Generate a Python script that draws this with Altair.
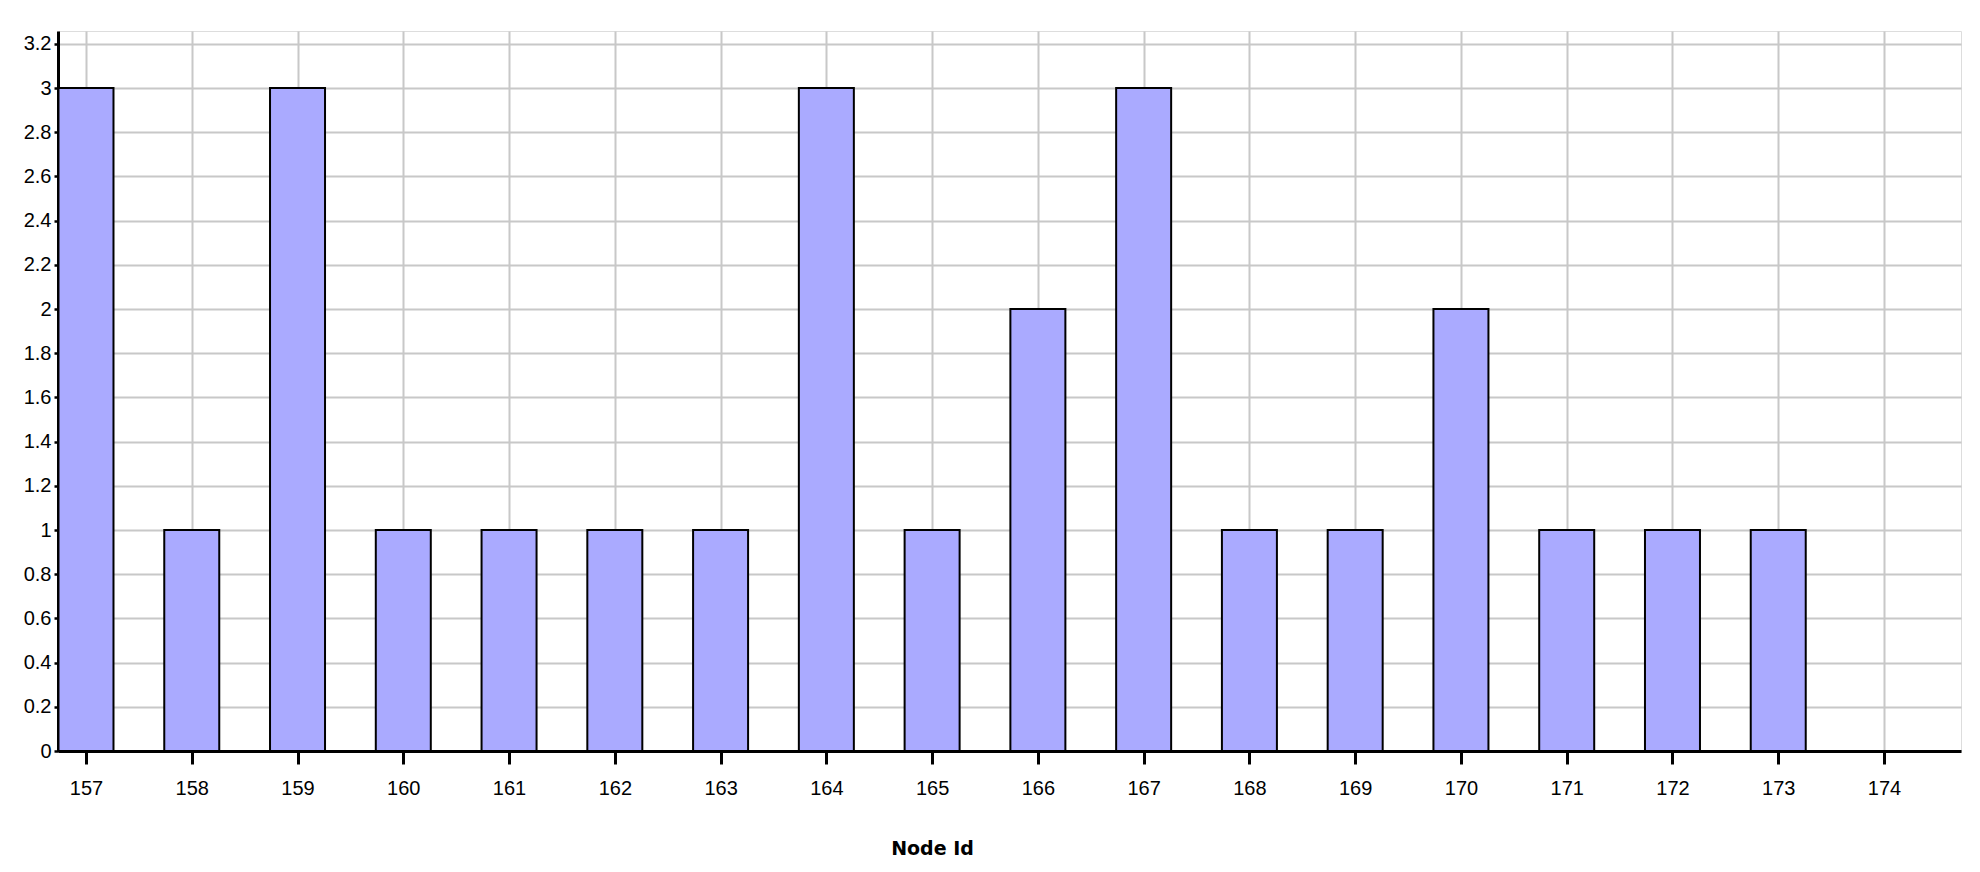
import altair as alt
import pandas as pd

node_ids = [157, 158, 159, 160, 161, 162, 163, 164, 165, 166, 167, 168, 169, 170, 171, 172, 173, 174]
counts = [3, 1, 3, 1, 1, 1, 1, 3, 1, 2, 3, 1, 1, 2, 1, 1, 1, 0]
y_ticks = [0, 0.2, 0.4, 0.6, 0.8, 1, 1.2, 1.4, 1.6, 1.8, 2, 2.2, 2.4, 2.6, 2.8, 3, 3.2]

df = pd.DataFrame({"node": node_ids, "count": counts})
df = df[df["count"] > 0]

x_axis = alt.Axis(
    values=node_ids,
    format="d",
    title="Node Id",
    grid=True,
    gridColor="#c8c8c8",
    gridWidth=2,
    domainColor="black",
    domainWidth=3,
    tickColor="black",
    tickWidth=3,
    tickSize=13,
    labelFont="Liberation Sans",
    labelFontSize=20,
    labelColor="black",
    labelPadding=14,
    labelFlush=False,
    titleFont="DejaVu Sans",
    titleFontWeight="bold",
    titleFontSize=19,
    titleColor="black",
    titleX=874,
    titleY=97,
    titleBaseline="middle",
    titleAnchor="start",
    titleAlign="center",
)

y_axis = alt.Axis(
    values=y_ticks,
    format="~g",
    title=None,
    grid=True,
    gridColor="#c8c8c8",
    gridWidth=2,
    domainColor="black",
    domainWidth=3,
    tickColor="black",
    tickWidth=2.5,
    tickSize=4,
    labelFont="Liberation Sans",
    labelFontSize=20,
    labelColor="black",
    labelPadding=3,
)

chart = (
    alt.Chart(df)
    .mark_bar(size=55, fill="#aaaaff", stroke="black", strokeWidth=2)
    .encode(
        x=alt.X("node:Q", scale=alt.Scale(domain=[156.7353, 174.728], nice=False, zero=False, padding=0), axis=x_axis),
        y=alt.Y("count:Q", scale=alt.Scale(domain=[0, 3.258], nice=False), axis=y_axis),
    )
    .properties(
        width=1903,
        height=720,
        autosize=alt.AutoSizeParams(type="none"),
        padding={"left": 50, "top": 23, "right": 11, "bottom": 110},
    )
    .configure_view(stroke="#a8a8a8", strokeWidth=2)
    .configure(background="white")
)

chart.save("out.html", embed_options={"renderer": "svg", "actions": False})
